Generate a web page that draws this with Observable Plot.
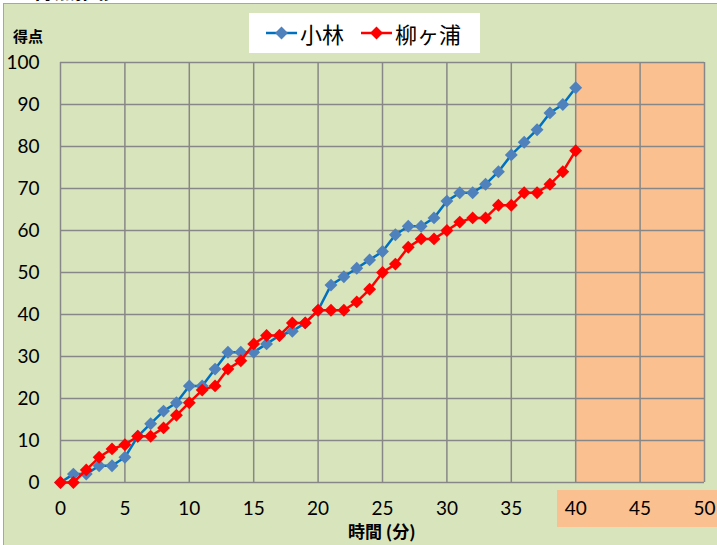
<!DOCTYPE html>
<html>
<head>
<meta charset="utf-8">
<script src="https://cdn.jsdelivr.net/npm/d3@7"></script>
<script src="https://cdn.jsdelivr.net/npm/@observablehq/plot@0.6"></script>
<style>
  html, body { margin: 0; padding: 0; background: #ffffff; }
  #wrap { position: relative; width: 717px; height: 545px; overflow: hidden; }
  #frame { position: absolute; left: 3px; top: 3px; right: 0; bottom: 0;
           background: #D8E4BC; border-left: 1.5px solid #A6A6A6; border-top: 1.5px solid #A6A6A6; }
  #title { position: absolute; left: 12px; top: -25px; font: bold 21px "Noto Sans CJK JP", sans-serif; color: #000; line-height: 28px; }
  #tickbox { position: absolute; left: 557px; top: 490px; width: 160px; height: 37px; background: #FAC090; }
  #chart { position: absolute; left: 0; top: 0; }
  #ylab { position: absolute; left: 13px; top: 25px; font: bold 15px "Noto Sans CJK JP", sans-serif; color: #000; }
  #xlab { position: absolute; left: 348px; top: 521px; font: bold 17px "Noto Sans CJK JP", sans-serif; color: #000; white-space: nowrap; line-height: 20px; }
  #legend { position: absolute; left: 249px; top: 13px; width: 231px; height: 40px; background: #fff;
            display: flex; align-items: center; font: 22px "Noto Sans CJK JP", sans-serif; color: #000; }
  .item { display: flex; align-items: center; }
  .item svg { display: block; }
</style>
</head>
<body>
<div id="wrap">
  <div id="frame"></div>
  <div id="title">【得点推移】</div>
  <div id="tickbox"></div>
  <div id="chart"></div>
  <div id="ylab">得点</div>
  <div id="xlab">時間 (分)</div>
  <div id="legend"></div>
</div>
<script>
// ---- data ----
const minutes = d3.range(0, 41);
const kobayashi = [0,2,2,4,4,6,11,14,17,19,23,23,27,31,31,31,33,35,36,38,41,47,49,51,53,55,59,61,61,63,67,69,69,71,74,78,81,84,88,90,94];
const yanagigaura = [0,0,3,6,8,9,11,11,13,16,19,22,23,27,29,33,35,35,38,38,41,41,41,43,46,50,52,56,58,58,60,62,63,63,66,66,69,69,71,74,79];
const seriesNames = ["小林", "柳ヶ浦"];
const xTicks = [0,5,10,15,20,25,30,35,40,45,50];
const yTicks = [0,10,20,30,40,50,60,70,80,90,100];
const highlight = [{x1: 40, x2: 50, y1: 0, y2: 100}];

const lineColors = {"小林": "#0070C0", "柳ヶ浦": "#FF0000"};
const markColors = {"小林": "#4F81BD", "柳ヶ浦": "#FF0000"};

const rows = [];
minutes.forEach((m, i) => rows.push({t: m, v: kobayashi[i], s: seriesNames[0]}));
minutes.forEach((m, i) => rows.push({t: m, v: yanagigaura[i], s: seriesNames[1]}));

const plot = Plot.plot({
  width: 717,
  height: 545,
  marginLeft: 60,
  marginRight: 13,
  marginTop: 62,
  marginBottom: 63,
  style: {background: "transparent", fontFamily: "Lato, 'Liberation Sans', sans-serif", fontSize: "19px", color: "#000", overflow: "visible"},
  x: {domain: [0, 50]},
  y: {domain: [0, 100]},
  marks: [
    Plot.rect(highlight, {x1: "x1", x2: "x2", y1: "y1", y2: "y2", fill: "#FAC090"}),
    Plot.ruleX(xTicks, {stroke: "#878787", strokeWidth: 1.5}),
    Plot.ruleY(yTicks, {stroke: "#878787", strokeWidth: 1.5}),
    Plot.axisX(xTicks, {tickSize: 0, tickPadding: 19, fontSize: 19, label: null}),
    Plot.axisY(yTicks, {tickSize: 0, tickPadding: 21, fontSize: 19, label: null}),
    ...seriesNames.map(name => [
      Plot.line(rows.filter(d => d.s === name), {x: "t", y: "v", stroke: lineColors[name], strokeWidth: 2.5}),
      Plot.dot(rows.filter(d => d.s === name), {x: "t", y: "v", symbol: "diamond2", r: 5.8, fill: markColors[name], stroke: "none"})
    ]).flat()
  ]
});
document.getElementById("chart").appendChild(plot);

// ---- legend ----
const legend = document.getElementById("legend");
seriesNames.forEach((name, i) => {
  const item = document.createElement("div");
  item.className = "item";
  item.style.marginLeft = "17px";
  const sym = d3.symbol(d3.symbolDiamond2, Math.PI * 5.8 * 5.8)();
  item.innerHTML =
    `<svg width="31" height="16"><line x1="0" x2="31" y1="8" y2="8" stroke="${lineColors[name]}" stroke-width="2.5"/>` +
    `<path d="${sym}" transform="translate(15.5,8)" fill="${markColors[name]}"/></svg>` +
    `<span style="margin-left:3px">${name}</span>`;
  legend.appendChild(item);
});
</script>
</body>
</html>
